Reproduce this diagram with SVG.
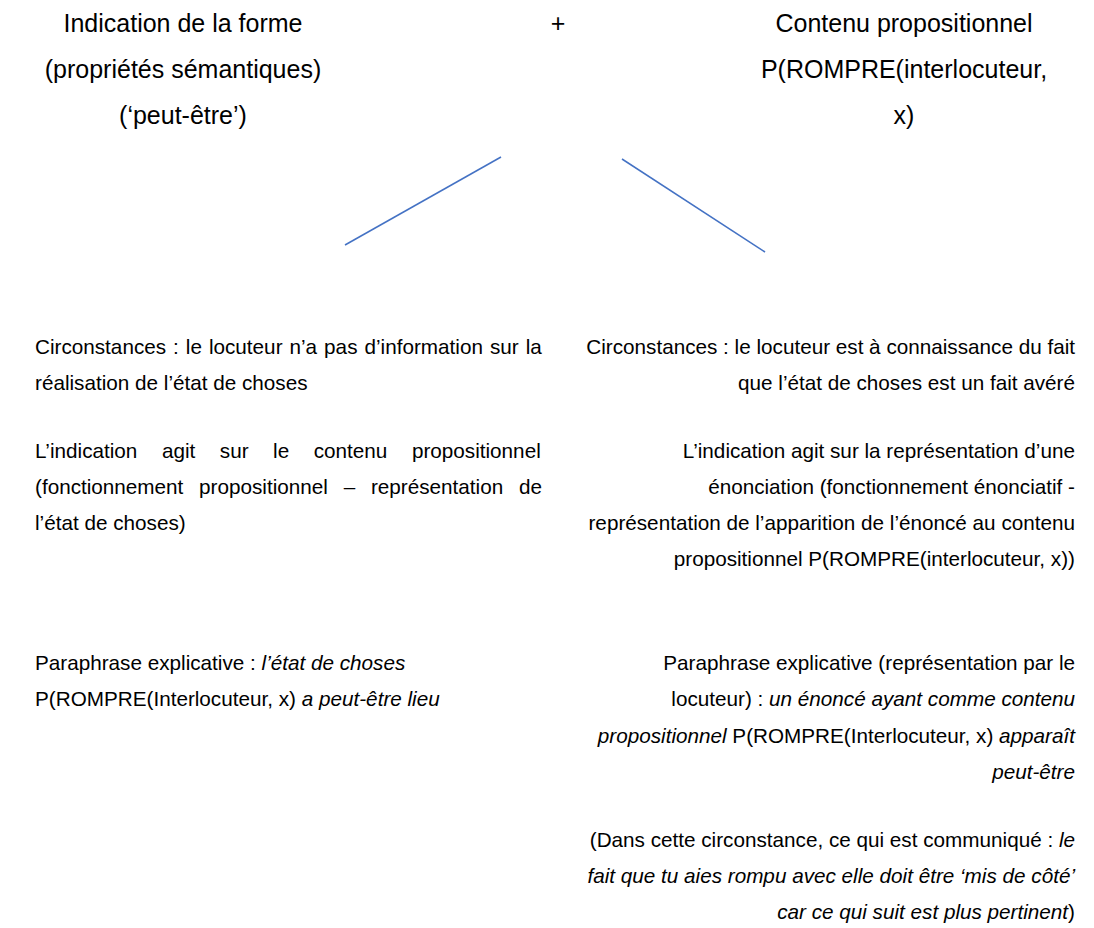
<svg xmlns="http://www.w3.org/2000/svg" width="1094" height="928" viewBox="0 0 1094 928">
<style>
text{font-family:"Liberation Sans",Arial,sans-serif;fill:#000}
.t{font-size:25px;text-anchor:middle}
.b{font-size:20.7px}
.r{text-anchor:end}
.i{font-style:italic}
.c{stroke:#4472C4;stroke-width:1.5;fill:none}
</style>
<rect width="1094" height="928" fill="#fff"/>
<g id="forme">
<text class="t" x="183" y="32">Indication de la forme</text>
<text class="t" x="183" y="78">(propriétés sémantiques)</text>
<text class="t" x="183" y="124">(‘peut-être’)</text>
</g>
<g id="plus">
<text class="t" x="558" y="32">+</text>
</g>
<g id="contenu">
<text class="t" x="904" y="32">Contenu propositionnel</text>
<text class="t" x="904" y="78">P(ROMPRE(interlocuteur,</text>
<text class="t" x="904" y="124">x)</text>
</g>
<g id="connectors">
<line class="c" x1="501" y1="157" x2="345" y2="245"/>
<line class="c" x1="622" y1="159" x2="765" y2="252"/>
</g>
<g id="gauche">
<text class="b" x="35" y="354" word-spacing="1.25">Circonstances : le locuteur n’a pas d’information sur la</text>
<text class="b" x="35" y="390">réalisation de l’état de choses</text>
<text class="b" x="35" y="458" word-spacing="18.8">L’indication agit sur le contenu propositionnel</text>
<text class="b" x="35" y="494" word-spacing="10">(fonctionnement propositionnel – représentation de</text>
<text class="b" x="35" y="530">l’état de choses)</text>
<text class="b" x="35" y="670">Paraphrase explicative : <tspan class="i">l’état de choses</tspan></text>
<text class="b" x="35" y="706">P(ROMPRE(Interlocuteur, x) <tspan class="i">a peut-être lieu</tspan></text>
</g>
<g id="droite">
<text class="b r" x="1075" y="354">Circonstances : le locuteur est à connaissance du fait</text>
<text class="b r" x="1075" y="390">que l’état de choses est un fait avéré</text>
<text class="b r" x="1075" y="458">L’indication agit sur la représentation d’une</text>
<text class="b r" x="1075" y="494">énonciation (fonctionnement énonciatif -</text>
<text class="b r" x="1075" y="530">représentation de l’apparition de l’énoncé au contenu</text>
<text class="b r" x="1075" y="566">propositionnel P(ROMPRE(interlocuteur, x))</text>
<text class="b r" x="1075" y="670">Paraphrase explicative (représentation par le</text>
<text class="b r" x="1075" y="706">locuteur) : <tspan class="i">un énoncé ayant comme contenu</tspan></text>
<text class="b r" x="1075" y="743"><tspan class="i">propositionnel</tspan> P(ROMPRE(Interlocuteur, x) <tspan class="i">apparaît</tspan></text>
<text class="b r i" x="1075" y="779">peut-être</text>
<text class="b r" x="1075" y="847">(Dans cette circonstance, ce qui est communiqué : <tspan class="i">le</tspan></text>
<text class="b r i" x="1075" y="883">fait que tu aies rompu avec elle doit être ‘mis de côté’</text>
<text class="b r" x="1075" y="919"><tspan class="i">car ce qui suit est plus pertinent</tspan>)</text>
</g>
</svg>
